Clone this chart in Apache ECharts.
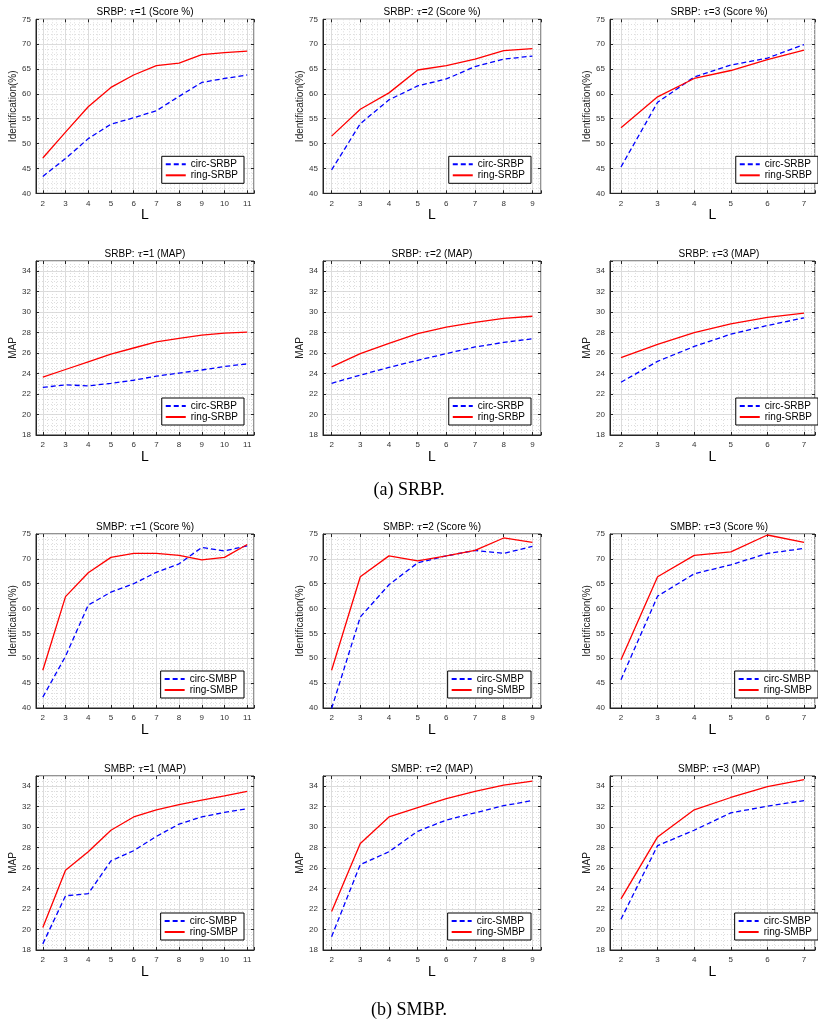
<!DOCTYPE html>
<html>
<head>
<meta charset="utf-8">
<script src="https://cdn.jsdelivr.net/npm/echarts@6/dist/echarts.min.js"></script>
<style>
html,body{margin:0;padding:0;background:#fff;}
#chart{width:818px;height:1028px;}
</style>
</head>
<body>
<div id="chart"></div>
<script>
// ---- data ----
const L_t1 = [2, 3, 4, 5, 6, 7, 8, 9, 10, 11];
const L_t2 = [2, 3, 4, 5, 6, 7, 8, 9];
const L_t3 = [2, 3, 4, 5, 6, 7];

// SRBP, Score %
const srbpScoreT1Circ = [43.4, 47.0, 51.0, 53.9, 55.2, 56.6, 59.5, 62.3, 63.1, 63.8];
const srbpScoreT1Ring = [47.1, 52.3, 57.4, 61.3, 63.8, 65.7, 66.2, 67.9, 68.3, 68.6];
const srbpScoreT2Circ = [44.7, 54.0, 58.8, 61.6, 63.0, 65.5, 67.0, 67.6];
const srbpScoreT2Ring = [51.5, 56.9, 60.2, 64.8, 65.7, 67.0, 68.7, 69.1];
const srbpScoreT3Circ = [45.3, 58.3, 63.4, 65.8, 67.2, 69.9];
const srbpScoreT3Ring = [53.2, 59.4, 63.1, 64.7, 66.9, 68.8];
// SRBP, MAP
const srbpMapT1Circ = [22.65, 22.9, 22.8, 23.05, 23.35, 23.75, 24.05, 24.35, 24.7, 24.95];
const srbpMapT1Ring = [23.65, 24.4, 25.15, 25.9, 26.5, 27.1, 27.45, 27.75, 27.95, 28.05];
const srbpMapT2Circ = [23.05, 23.85, 24.6, 25.3, 25.95, 26.6, 27.05, 27.4];
const srbpMapT2Ring = [24.65, 25.95, 26.95, 27.9, 28.55, 29.0, 29.4, 29.6];
const srbpMapT3Circ = [23.15, 25.2, 26.65, 27.85, 28.7, 29.45];
const srbpMapT3Ring = [25.55, 26.85, 28.0, 28.85, 29.5, 29.9];
// SMBP, Score %
const smbpScoreT1Circ = [42.2, 50.4, 60.7, 63.3, 65.0, 67.3, 69.0, 72.3, 71.6, 72.6];
const smbpScoreT1Ring = [47.6, 62.4, 67.2, 70.3, 71.1, 71.1, 70.7, 69.8, 70.3, 72.9];
const smbpScoreT2Circ = [39.9, 58.3, 64.8, 69.2, 70.6, 71.7, 71.1, 72.5];
const smbpScoreT2Ring = [47.6, 66.4, 70.6, 69.6, 70.6, 71.7, 74.2, 73.3];
const smbpScoreT3Circ = [45.7, 62.5, 67.0, 68.8, 71.1, 72.1];
const smbpScoreT3Ring = [49.7, 66.4, 70.7, 71.4, 74.8, 73.3];
// SMBP, MAP
const smbpMapT1Circ = [18.6, 23.3, 23.5, 26.7, 27.7, 29.1, 30.3, 31.0, 31.45, 31.8];
const smbpMapT1Ring = [20.2, 25.8, 27.6, 29.7, 31.0, 31.7, 32.2, 32.65, 33.05, 33.5];
const smbpMapT2Circ = [19.3, 26.35, 27.6, 29.6, 30.7, 31.4, 32.1, 32.6];
const smbpMapT2Ring = [21.75, 28.4, 31.0, 31.9, 32.8, 33.5, 34.1, 34.5];
const smbpMapT3Circ = [21.0, 28.2, 29.7, 31.4, 32.05, 32.6];
const smbpMapT3Ring = [23.0, 29.05, 31.7, 32.9, 33.97, 34.65];

const scoreTicks = [40, 45, 50, 55, 60, 65, 70, 75];
const mapTicks = [18, 20, 22, 24, 26, 28, 30, 32, 34];

const panels = [
  {title: 'SRBP', tau: 1, kind: 'Score %', L: L_t1, circ: srbpScoreT1Circ, ring: srbpScoreT1Ring, name: 'SRBP'},
  {title: 'SRBP', tau: 2, kind: 'Score %', L: L_t2, circ: srbpScoreT2Circ, ring: srbpScoreT2Ring, name: 'SRBP'},
  {title: 'SRBP', tau: 3, kind: 'Score %', L: L_t3, circ: srbpScoreT3Circ, ring: srbpScoreT3Ring, name: 'SRBP'},
  {title: 'SRBP', tau: 1, kind: 'MAP', L: L_t1, circ: srbpMapT1Circ, ring: srbpMapT1Ring, name: 'SRBP'},
  {title: 'SRBP', tau: 2, kind: 'MAP', L: L_t2, circ: srbpMapT2Circ, ring: srbpMapT2Ring, name: 'SRBP'},
  {title: 'SRBP', tau: 3, kind: 'MAP', L: L_t3, circ: srbpMapT3Circ, ring: srbpMapT3Ring, name: 'SRBP'},
  {title: 'SMBP', tau: 1, kind: 'Score %', L: L_t1, circ: smbpScoreT1Circ, ring: smbpScoreT1Ring, name: 'SMBP'},
  {title: 'SMBP', tau: 2, kind: 'Score %', L: L_t2, circ: smbpScoreT2Circ, ring: smbpScoreT2Ring, name: 'SMBP'},
  {title: 'SMBP', tau: 3, kind: 'Score %', L: L_t3, circ: smbpScoreT3Circ, ring: smbpScoreT3Ring, name: 'SMBP'},
  {title: 'SMBP', tau: 1, kind: 'MAP', L: L_t1, circ: smbpMapT1Circ, ring: smbpMapT1Ring, name: 'SMBP'},
  {title: 'SMBP', tau: 2, kind: 'MAP', L: L_t2, circ: smbpMapT2Circ, ring: smbpMapT2Ring, name: 'SMBP'},
  {title: 'SMBP', tau: 3, kind: 'MAP', L: L_t3, circ: smbpMapT3Circ, ring: smbpMapT3Ring, name: 'SMBP'}
];

// ---- layout ----
const colLeft = [36, 323, 610];
const rowTop = [19.3, 261, 534, 776];
const W = 218, H = 174;
const FONT = 'Liberation Sans, Arial, sans-serif';
const axisColor = '#262626';

const option = {
  animation: false,
  backgroundColor: '#fff',
  title: [], grid: [], xAxis: [], yAxis: [], series: [], legend: []
};

panels.forEach((p, i) => {
  const r = Math.floor(i / 3), c = i % 3;
  const left = colLeft[c], top = rowTop[r];
  const isMap = p.kind === 'MAP';
  const yTicks = isMap ? mapTicks : scoreTicks;
  const yMin = yTicks[0];
  const yMax = isMap ? 35 : yTicks[yTicks.length - 1];
  const yInt = yTicks[1] - yTicks[0];
  const xMin = p.L[0] - 0.3, xMax = p.L[p.L.length - 1] + 0.3;

  option.grid.push({left: left, top: top, width: W, height: H, show: true,
    borderColor: axisColor, borderWidth: 1, backgroundColor: '#fff', containLabel: false});

  option.title.push({
    text: p.title + ': {t|τ}=' + p.tau + ' (' + p.kind + ')',
    left: left + W / 2, top: top - 12, textAlign: 'center', padding: 0,
    textStyle: {fontFamily: FONT, fontSize: 10, fontWeight: 'normal', color: '#000',
      rich: {t: {fontFamily: 'DejaVu Serif, serif', fontStyle: 'italic', fontSize: 10, color: '#000'}}}
  });

  const xBase = {
    type: 'value', gridIndex: i, min: xMin, max: xMax, splitNumber: p.L.length,
    minInterval: 1, maxInterval: 1
  };
  option.xAxis.push(Object.assign({}, xBase, {
    position: 'bottom',
    name: 'L', nameLocation: 'middle', nameGap: 15,
    nameTextStyle: {fontFamily: FONT, fontSize: 14, color: '#000'},
    axisLine: {show: true, onZero: false, lineStyle: {color: axisColor, width: 1}},
    axisTick: {show: true, inside: true, length: 3, lineStyle: {color: axisColor}},
    axisLabel: {fontFamily: FONT, fontSize: 8, color: '#333', margin: 6,
      formatter: v => (Math.abs(v - Math.round(v)) < 1e-6 ? String(Math.round(v)) : '')},
    splitLine: {show: true, lineStyle: {color: '#dcdcdc', width: 1}},
    minorTick: {show: false, splitNumber: 5},
    minorSplitLine: {show: true, lineStyle: {color: '#d6d6d6', width: 0.8, type: [1, 2]}}
  }));
  option.xAxis.push(Object.assign({}, xBase, {
    position: 'top',
    axisLine: {show: false},
    axisTick: {show: true, inside: true, length: 3, lineStyle: {color: axisColor}},
    axisLabel: {show: false}, splitLine: {show: false}
  }));

  const yBase = {type: 'value', gridIndex: i, min: yMin, max: yMax, interval: yInt};
  option.yAxis.push(Object.assign({}, yBase, {
    position: 'left',
    name: isMap ? 'MAP' : 'Identification(%)', nameLocation: 'middle', nameGap: 14,
    nameTextStyle: {fontFamily: FONT, fontSize: 10, color: '#222'},
    axisLine: {show: true, onZero: false, lineStyle: {color: axisColor, width: 1}},
    axisTick: {show: true, inside: true, length: 3, lineStyle: {color: axisColor}},
    axisLabel: {fontFamily: FONT, fontSize: 8, color: '#333', margin: 5,
      formatter: v => (yTicks.indexOf(v) >= 0 ? String(v) : '')},
    splitLine: {show: true, lineStyle: {color: '#dcdcdc', width: 1}},
    minorTick: {show: false, splitNumber: isMap ? 4 : 5},
    minorSplitLine: {show: true, lineStyle: {color: '#d6d6d6', width: 0.8, type: [1, 2]}}
  }));
  option.yAxis.push(Object.assign({}, yBase, {
    position: 'right',
    axisLine: {show: false},
    axisTick: {show: true, inside: true, length: 3, lineStyle: {color: axisColor}},
    axisLabel: {show: false}, splitLine: {show: false}
  }));

  const circName = 'circ-' + p.name, ringName = 'ring-' + p.name;
  option.series.push({
    type: 'line', name: circName, xAxisIndex: 2 * i, yAxisIndex: 2 * i,
    data: p.L.map((x, k) => [x, p.circ[k]]), symbol: 'none', clip: true,
    lineStyle: {color: '#0000ff', width: 1.3, type: [5, 3]}, itemStyle: {color: '#0000ff'}
  });
  option.series.push({
    type: 'line', name: ringName, xAxisIndex: 2 * i, yAxisIndex: 2 * i,
    data: p.L.map((x, k) => [x, p.ring[k]]), symbol: 'none', clip: true,
    lineStyle: {color: '#ff0000', width: 1.3, type: 'solid'}, itemStyle: {color: '#ff0000'}
  });

  option.legend.push({
    data: [circName, ringName], orient: 'vertical',
    right: 818 - (left + W - 10), top: top + H - 10 - 27,
    backgroundColor: '#fff', borderColor: '#000', borderWidth: 1, borderRadius: 0,
    padding: [3, 6, 3, 3], itemGap: 1, itemWidth: 20, itemHeight: 10,
    selectedMode: false,
    itemStyle: {opacity: 0, borderWidth: 0},
    textStyle: {fontFamily: FONT, fontSize: 10, color: '#000'}
  });
});

option.title.push({text: '(a) SRBP.', left: 'center', top: 481, padding: 0,
  textStyle: {fontFamily: 'Liberation Serif, serif', fontSize: 18, fontWeight: 'normal', color: '#000'}});
option.title.push({text: '(b) SMBP.', left: 'center', top: 1001, padding: 0,
  textStyle: {fontFamily: 'Liberation Serif, serif', fontSize: 18, fontWeight: 'normal', color: '#000'}});

const chart = echarts.init(document.getElementById('chart'), null, {renderer: 'canvas'});
chart.setOption(option);
</script>
</body>
</html>
